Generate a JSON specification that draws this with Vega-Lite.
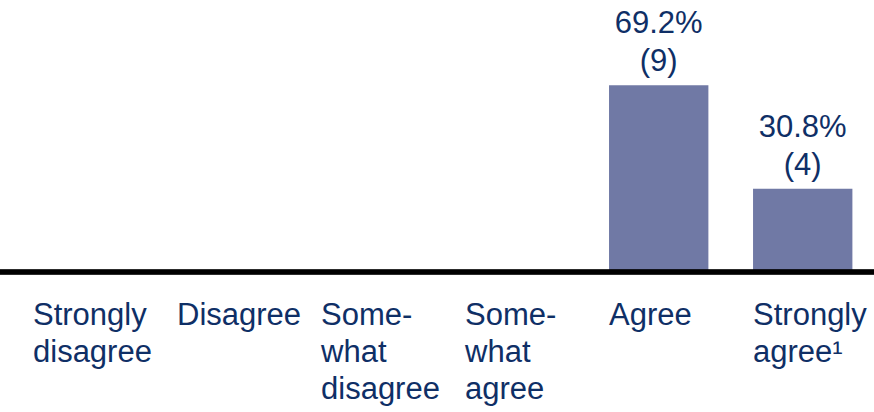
{
  "$schema": "https://vega.github.io/schema/vega-lite/v6.json",
  "width": 874,
  "height": 412,
  "autosize": "none",
  "padding": 0,
  "background": "white",
  "config": {"view": {"stroke": null}, "font": "Liberation Sans"},
  "data": {"values": [
    {"category": "Strongly disagree", "label": "Strongly\ndisagree", "pct": 0, "n": 0},
    {"category": "Disagree", "label": "Disagree", "pct": 0, "n": 0},
    {"category": "Somewhat disagree", "label": "Some-\nwhat\ndisagree", "pct": 0, "n": 0},
    {"category": "Somewhat agree", "label": "Some-\nwhat\nagree", "pct": 0, "n": 0},
    {"category": "Agree", "label": "Agree", "pct": 69.2, "n": 9, "value": "69.2%\n(9)"},
    {"category": "Strongly agree", "label": "Strongly\nagree¹", "pct": 30.8, "n": 4, "value": "30.8%\n(4)"}
  ]},
  "encoding": {
    "x": {"field": "category", "type": "nominal", "sort": null, "axis": null,
      "scale": {"domain": ["Strongly disagree", "Disagree", "Somewhat disagree", "Somewhat agree", "Agree", "Strongly agree"],
        "range": [33, 852.4], "paddingInner": 0.31, "paddingOuter": 0}}
  },
  "layer": [
    {
      "mark": {"type": "bar", "color": "#7079a5"},
      "encoding": {
        "y": {"field": "pct", "type": "quantitative", "axis": null, "scale": {"domain": [0, 100], "range": [272, 2]}}
      }
    },
    {
      "mark": {"type": "rule", "color": "#000000", "strokeWidth": 4.5, "strokeCap": "round"},
      "encoding": {
        "x": null,
        "y": {"datum": 0, "type": "quantitative"}
      }
    },
    {
      "transform": [{"filter": "datum.value != null"}],
      "mark": {"type": "text", "baseline": "bottom", "align": "center", "fontSize": 31, "lineHeight": 38, "color": "#0f2f66", "dy": -45, "lineBreak": "\n"},
      "encoding": {
        "y": {"field": "pct", "type": "quantitative"},
        "text": {"field": "value"}
      }
    },
    {
      "mark": {"type": "text", "baseline": "top", "align": "left", "fontSize": 31, "lineHeight": 37, "color": "#0f2f66", "dy": 29, "lineBreak": "\n"},
      "encoding": {
        "x": {"field": "category", "type": "nominal", "bandPosition": 0},
        "y": {"datum": 0, "type": "quantitative"},
        "text": {"field": "label"}
      }
    }
  ]
}
